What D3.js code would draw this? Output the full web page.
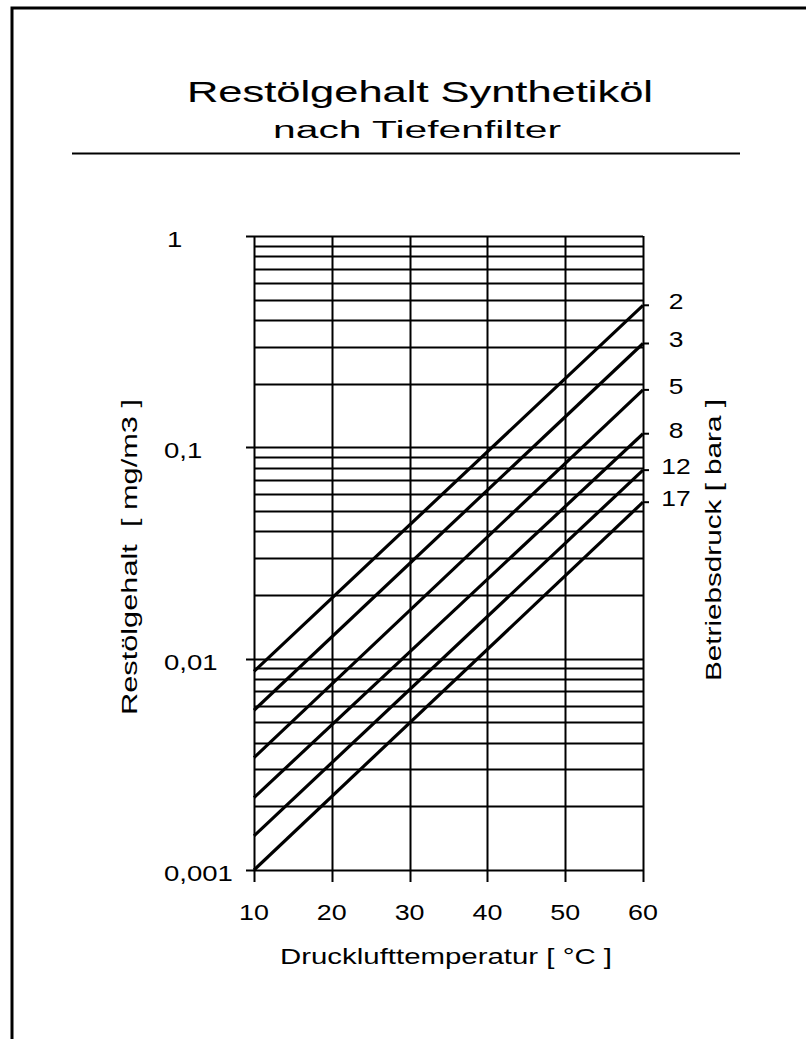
<!DOCTYPE html>
<html>
<head>
<meta charset="utf-8">
<script src="https://cdn.jsdelivr.net/npm/d3@7"></script>
<style>
  html, body { margin: 0; padding: 0; background: #fff; }
  svg { display: block; }
  text { font-family: "Liberation Sans", Arial, Helvetica, sans-serif; fill: #000; white-space: pre; }
</style>
</head>
<body>
<svg id="chart" width="806" height="1039"></svg>
<script>
// ---- data ----
const pressures = ["2", "3", "5", "8", "12", "17"];          // Betriebsdruck [bara]
const tempRange = [10, 60];                                   // Drucklufttemperatur [°C]
const valuesAt10 = [0.0087, 0.0057, 0.0034, 0.0022, 0.00145, 0.001];  // mg/m3 at 10 °C
const valuesAt60 = [0.47, 0.31, 0.187, 0.116, 0.078, 0.055];          // mg/m3 at 60 °C
const xTicks = [10, 20, 30, 40, 50, 60];
const yTicks = [0.001, 0.01, 0.1, 1];
const yTickLabels = ["0,001", "0,01", "0,1", "1"];

const titleText = "Restölgehalt Synthetiköl";
const subtitleText = "nach Tiefenfilter";
const xTitle = "Drucklufttemperatur [ °C ]";
const yTitle = "Restölgehalt  [ mg/m3 ]";
const rightTitle = "Betriebsdruck [ bara ]";

// ---- layout ----
const svg = d3.select("#chart");
const pLeft = 254, pRight = 643, pTop = 236, pBottom = 870;

const x = d3.scaleLinear().domain([10, 60]).range([pLeft, pRight]);
const y = d3.scaleLog().domain([0.001, 1]).range([pBottom, pTop]);

// widen glyphs (the original uses a wide screen font)
function widen(sel, factor) {
  sel.each(function () {
    const w = this.getComputedTextLength();
    d3.select(this).attr("textLength", w * factor).attr("lengthAdjust", "spacingAndGlyphs");
  });
}

// frame
svg.append("rect").attr("x", 12).attr("y", 8).attr("width", 900).attr("height", 1100)
  .attr("fill", "none").attr("stroke", "#000").attr("stroke-width", 3);

// title
svg.append("text").attr("x", 420).attr("y", 102).attr("text-anchor", "middle")
  .attr("font-size", 30).attr("textLength", 466).attr("lengthAdjust", "spacingAndGlyphs")
  .attr("stroke", "#000").attr("stroke-width", 0.12)
  .text(titleText);
svg.append("text").attr("x", 417).attr("y", 138).attr("text-anchor", "middle")
  .attr("font-size", 23).attr("textLength", 288).attr("lengthAdjust", "spacingAndGlyphs")
  .text(subtitleText);
svg.append("line").attr("x1", 72).attr("x2", 740).attr("y1", 153.5).attr("y2", 153.5)
  .attr("stroke", "#000").attr("stroke-width", 2);

// horizontal grid (log minor lines)
const gridVals = [];
for (let e = -3; e < 0; e++) {
  for (let m = 1; m < 10; m++) gridVals.push(m * Math.pow(10, e));
}
gridVals.push(1);
const g = svg.append("g");
g.selectAll("line.h").data(gridVals).join("line")
  .attr("class", "h")
  .attr("x1", d => yTicks.some(t => Math.abs(t - d) < 1e-12) ? pLeft - 8 : pLeft)
  .attr("x2", pRight)
  .attr("y1", d => Math.round(y(d)) + 0.5)
  .attr("y2", d => Math.round(y(d)) + 0.5)
  .attr("stroke", "#000").attr("stroke-width", 2);

// vertical grid
g.selectAll("line.v").data(xTicks).join("line")
  .attr("class", "v")
  .attr("x1", d => Math.round(x(d)) + 0.5).attr("x2", d => Math.round(x(d)) + 0.5)
  .attr("y1", pTop).attr("y2", pBottom + 12)
  .attr("stroke", "#000").attr("stroke-width", 2);

// x tick labels
svg.selectAll("text.xt").data(xTicks).join("text")
  .attr("class", "xt")
  .attr("x", d => x(d)).attr("y", 920)
  .attr("text-anchor", "middle").attr("font-size", 22)
  .text(d => d)
  .call(widen, 1.22);

// y tick labels (left aligned)
svg.selectAll("text.yt").data(yTicks).join("text")
  .attr("class", "yt")
  .attr("x", (d, i) => i === 3 ? 167 : 164).attr("y", d => y(d) + 11)
  .attr("font-size", 22)
  .text((d, i) => yTickLabels[i])
  .call(widen, 1.25);

// curves
const series = pressures.map((p, i) => ({
  p, pts: [[tempRange[0], valuesAt10[i]], [tempRange[1], valuesAt60[i]]]
}));
const line = d3.line().x(d => x(d[0])).y(d => y(d[1]));
svg.selectAll("path.curve").data(series).join("path")
  .attr("class", "curve")
  .attr("d", d => line(d.pts))
  .attr("fill", "none").attr("stroke", "#000").attr("stroke-width", 3.2);

// end ticks
svg.selectAll("line.et").data(series).join("line")
  .attr("class", "et")
  .attr("x1", pRight).attr("x2", pRight + 6)
  .attr("y1", d => y(d.pts[1][1])).attr("y2", d => y(d.pts[1][1]))
  .attr("stroke", "#000").attr("stroke-width", 2);

// series labels
svg.selectAll("text.sl").data(series).join("text")
  .attr("class", "sl")
  .attr("x", 676).attr("y", d => y(d.pts[1][1]) + 4)
  .attr("text-anchor", "middle").attr("font-size", 22)
  .text(d => d.p)
  .call(widen, 1.2);

// axis titles
svg.append("text").attr("x", 446).attr("y", 964).attr("text-anchor", "middle")
  .attr("font-size", 22).attr("textLength", 332).attr("lengthAdjust", "spacingAndGlyphs")
  .text(xTitle);
svg.append("text").attr("transform", "translate(137,557) rotate(-90)")
  .attr("text-anchor", "middle").attr("font-size", 22)
  .attr("textLength", 316).attr("lengthAdjust", "spacingAndGlyphs")
  .text(yTitle);
svg.append("text").attr("transform", "translate(721,540) rotate(-90)")
  .attr("text-anchor", "middle").attr("font-size", 22)
  .attr("textLength", 282).attr("lengthAdjust", "spacingAndGlyphs")
  .text(rightTitle);
</script>
</body>
</html>
